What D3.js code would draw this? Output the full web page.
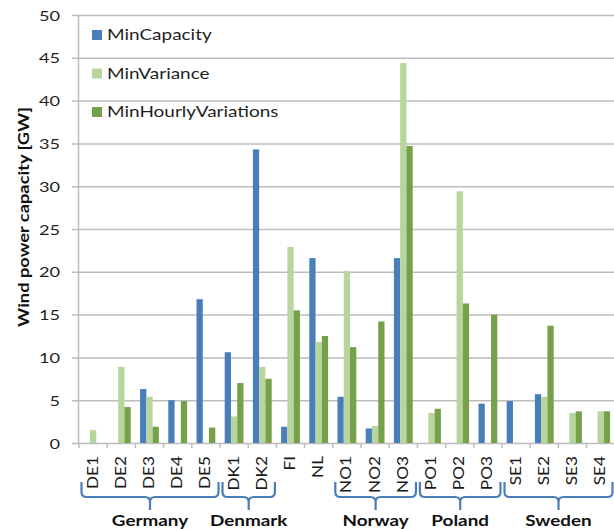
<!DOCTYPE html>
<html><head><meta charset="utf-8">
<script src="https://cdn.jsdelivr.net/npm/d3@7/dist/d3.min.js"></script>
<style>body{margin:0;background:#fff}svg{display:block}</style>
</head><body>
<svg id="chart" width="614" height="529"></svg>
<script>
const categories = ["DE1","DE2","DE3","DE4","DE5","DK1","DK2","FI","NL","NO1","NO2","NO3","PO1","PO2","PO3","SE1","SE2","SE3","SE4"];
const seriesNames = ["MinCapacity","MinVariance","MinHourlyVariations"];
const minCapacity = [0,0,6.3,5.0,16.8,10.6,34.3,1.9,21.6,5.4,1.7,21.6,0,0,4.6,4.9,5.7,0,0];
const minVariance = [1.5,8.9,5.4,0,0,3.1,8.9,22.9,11.8,20.1,2.0,44.4,3.5,29.4,0,0,5.4,3.5,3.7];
const minHourlyVariations = [0,4.2,1.9,4.9,1.8,7.0,7.5,15.5,12.5,11.2,14.2,34.7,4.0,16.3,15.0,0,13.7,3.7,3.7];
const yTicks = [0,5,10,15,20,25,30,35,40,45,50];
const groupNames = ["Germany","Denmark","Norway","Poland","Sweden"];
const groupFirst = ["DE1","DK1","NO1","PO1","SE1"];
const groupLast = ["DE5","DK2","NO3","PO3","SE4"];
const yTitle = "Wind power capacity [GW]";

const colors = ["#4a7ebb","#b7d59c","#76a04a"];
const seriesValues = [minCapacity, minVariance, minHourlyVariations];
const FONT = "Lato, 'Open Sans', sans-serif";

const svg = d3.select("#chart");
const x = d3.scaleBand().domain(categories).range([79, 614.8]).padding(0);
const xs = d3.scaleBand().domain(seriesNames).range([4.7, x.bandwidth() - 4.7]).padding(0);
const y = d3.scaleLinear().domain([0, 50]).range([443, 15]);
const color = d3.scaleOrdinal().domain(seriesNames).range(colors);

// y axis with gridlines
const yAxis = svg.append("g").attr("transform", "translate(72,0)")
  .call(d3.axisLeft(y).tickValues(yTicks).tickSizeInner(-(614 - 72)).tickSizeOuter(0).tickFormat(d3.format("d")));
yAxis.select(".domain").remove();
yAxis.selectAll(".tick line").attr("stroke", "#bdbdbd").attr("stroke-width", 1.5);
yAxis.selectAll(".tick text")
  .attr("x", 0).attr("dy", "0.36em")
  .attr("transform", "translate(-12,0) scale(1.3,1)")
  .style("font-family", FONT).style("font-size", "14px").attr("fill", "#1f1f1f");

// vertical axis line
svg.append("line").attr("x1", 78.5).attr("x2", 78.5).attr("y1", y(50)).attr("y2", y(0))
  .attr("stroke", "#bdbdbd").attr("stroke-width", 1.5);

// bars
const bars = svg.append("g");
seriesNames.forEach((s, si) => {
  bars.selectAll(null).data(categories.map((c, i) => ({c, v: seriesValues[si][i]})))
    .enter().append("rect")
    .attr("x", d => x(d.c) + xs(s))
    .attr("width", xs.bandwidth())
    .attr("y", d => y(d.v))
    .attr("height", d => y(0) - y(d.v))
    .attr("fill", color(s));
});

// x axis
const xAxis = svg.append("g").attr("transform", `translate(0,${y(0)})`)
  .call(d3.axisBottom(x).tickSize(0).tickPadding(0));
xAxis.select(".domain").remove();
xAxis.selectAll(".tick text")
  .attr("y", 0).attr("dy", "0.36em")
  .attr("text-anchor", "end")
  .attr("transform", "translate(-1,13) rotate(-90) scale(1.15,1)")
  .style("font-family", FONT).style("font-size", "15px").attr("fill", "#1a1a1a");
// boundary tick marks
const bounds = categories.map(c => x(c)).concat([x(categories[categories.length - 1]) + x.bandwidth()]);
svg.append("g").selectAll("line").data(bounds).enter().append("line")
  .attr("x1", d => d).attr("x2", d => d).attr("y1", y(0)).attr("y2", y(0) + 5)
  .attr("stroke", "#bdbdbd").attr("stroke-width", 1.5);

// y title
svg.append("text")
  .attr("transform", `translate(29,${(y(0) + y(50)) / 2 - 12}) rotate(-90) scale(1.22,1)`)
  .attr("text-anchor", "middle")
  .style("font-family", FONT).style("font-size", "15px").style("font-weight", "bold")
  .attr("fill", "#111").text(yTitle);

// legend
const legend = svg.append("g");
seriesNames.forEach((s, i) => {
  const cy = 35 + i * 38.5;
  legend.append("rect").attr("x", 92).attr("y", cy - 5).attr("width", 10).attr("height", 10).attr("fill", color(s));
  legend.append("text").attr("transform", `translate(107,${cy}) scale(1.31,1)`).attr("dy", "0.36em")
    .style("font-family", FONT).style("font-size", "14.5px").attr("fill", "#1f1f1f").text(s);
});

// group braces
const braces = svg.append("g");
groupNames.forEach((g, i) => {
  const x1 = x(groupFirst[i]) + 2.5;
  const x2 = Math.min(x(groupLast[i]) + x.bandwidth() - 1.5, 612.5);
  const m = (x1 + x2) / 2;
  const yT = 482, yM = 497, yB = 510, r = 5;
  const p = `M${x1},${yT} L${x1},${yM - r} Q${x1},${yM} ${x1 + r},${yM} L${m - r},${yM} Q${m},${yM} ${m},${yM + r} L${m},${yB}` +
            ` M${x2},${yT} L${x2},${yM - r} Q${x2},${yM} ${x2 - r},${yM} L${m + r},${yM} Q${m},${yM} ${m},${yM + r}`;
  braces.append("path").attr("d", p).attr("fill", "none").attr("stroke", "#4a7ebb").attr("stroke-width", 2.2);
  braces.append("text").attr("transform", `translate(${m},526) scale(1.18,1)`)
    .attr("text-anchor", "middle")
    .style("font-family", FONT).style("font-size", "16px").style("font-weight", "bold")
    .attr("fill", "#111").text(g);
});
</script>
</body></html>
